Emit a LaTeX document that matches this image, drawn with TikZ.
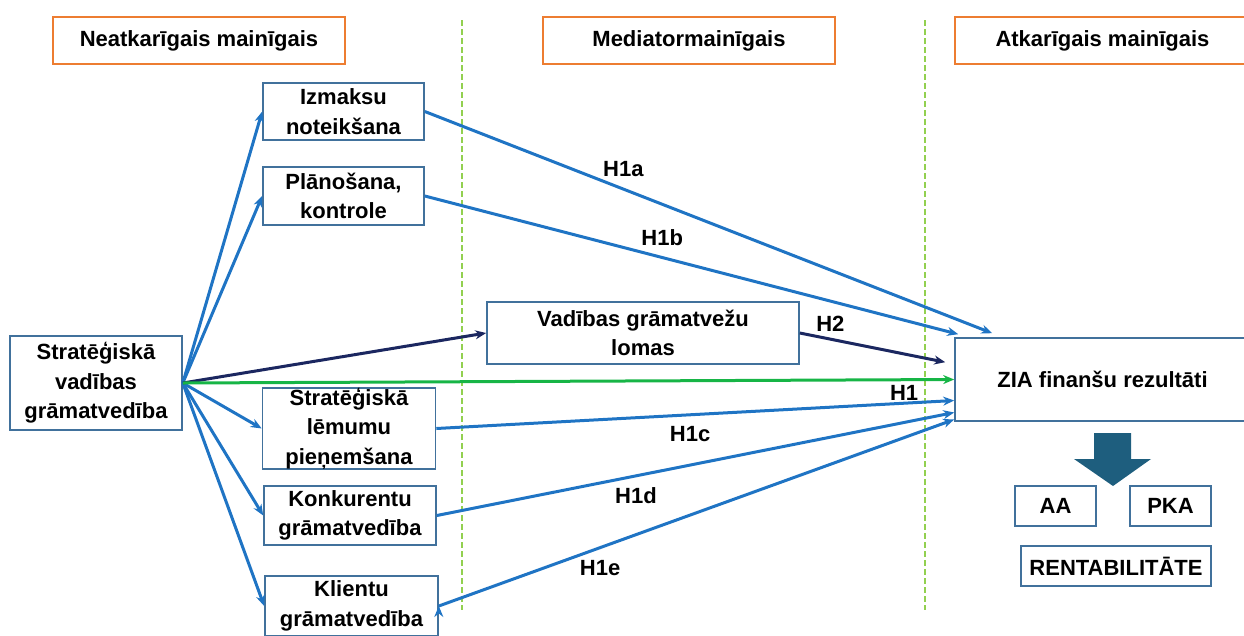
\documentclass[tikz,border=0pt]{standalone}
\usepackage{fontspec}
\setmainfont{Liberation Sans}
\usetikzlibrary{arrows.meta,positioning}
\definecolor{boxblue}{HTML}{41719C}
\definecolor{arrblue}{HTML}{1F74C4}
\definecolor{navyline}{HTML}{1B2760}
\definecolor{hypgreen}{HTML}{17B546}
\definecolor{hdrorange}{HTML}{ED7D31}
\definecolor{dashgreen}{HTML}{92D050}
\definecolor{bigarrow}{HTML}{1E5E7E}

\begin{document}
\begin{tikzpicture}[x=1pt,y=-1pt,>={Stealth[length=11pt,width=9pt]},
    font=\fontsize{22}{29.5}\selectfont\bfseries,
    var node/.style={draw=boxblue,line width=1.6pt,align=center,inner sep=0pt,text=black},
    head node/.style={draw=hdrorange,line width=1.6pt,minimum height=47pt,inner sep=0pt,text=black},
    hyp line/.style={line width=3pt},
    lbl/.style={inner sep=1pt,text=black}]
  \useasboundingbox (0,0) rectangle (1244,635);

  % kolonnu virsraksti
  \node[head node,minimum width=292pt] (hdrA) at (199,40.5) {Neatkarīgais mainīgais};
  \node[head node,minimum width=292pt] (hdrB) at (689,40.5) {Mediatormainīgais};
  \node[head node,minimum width=295pt] (hdrC) at (1102.5,40.5) {Atkarīgais mainīgais};

  % robezlinijas
  \draw[dashgreen,line width=2.5pt,dash pattern=on 6pt off 3pt] (462,20) -- (462,610);
  \draw[dashgreen,line width=2.5pt,dash pattern=on 6pt off 3pt] (925,20) -- (925,610);

  \node[var node,minimum width=172pt,minimum height=94pt] (svg) at (96,383) {Stratēģiskā\\vadības\\grāmatvedība};
  \node[var node,minimum width=161pt,minimum height=57pt] (izm) at (343.5,111.5) {Izmaksu\\noteikšana};
  \node[var node,minimum width=161pt,minimum height=58pt] (plan) at (343.5,196) {Plānošana,\\kontrole};
  \node[var node,minimum width=173pt,minimum height=81pt] (slp) at (349,428.5) {Stratēģiskā\\lēmumu\\pieņemšana};
  \node[var node,minimum width=172pt,minimum height=59pt] (konk) at (350,515.5) {Konkurentu\\grāmatvedība};
  \node[var node,minimum width=173pt,minimum height=60pt] (klien) at (351.5,606) {Klientu\\grāmatvedība};
  \node[var node,minimum width=312pt,minimum height=62pt] (vgl) at (643,333) {Vadības grāmatvežu\\lomas};
  \node[var node,minimum width=295pt,minimum height=83pt] (zia) at (1102.5,379.5) {ZIA finanšu rezultāti};

  % rezultatu raditaji
  \fill[bigarrow] (1094,433) -- (1131,433) -- (1131,459) -- (1151,459) -- (1113,486)
    -- (1074,459) -- (1094,459) -- cycle;
  \node[var node,minimum width=81pt,minimum height=40pt] (aa) at (1055.5,506) {AA};
  \node[var node,minimum width=81pt,minimum height=40pt] (pka) at (1170.5,506) {PKA};
  \node[var node,minimum width=190pt,minimum height=40pt] (rent) at (1116,566) {RENTABILITĀTE};

  \path[->,hyp line,draw=arrblue]
    (svg.east) edge (izm.west)
    (svg.east) edge (plan.west)
    (svg.east) edge (slp.west)
    (svg.east) edge (konk.west)
    (svg.east) edge (klien.west)
    (izm.east) edge node[lbl,pos=0.35,above=10pt] {H1a} ([xshift=38pt,yshift=4pt]zia.north west)
    (plan.east) edge node[lbl,pos=0.445,above=9pt] {H1b} ([xshift=4pt,yshift=3pt]zia.north west)
    (slp.east) edge node[lbl,pos=0.49,below=9pt] {H1c} ([yshift=-21pt]zia.west)
    (konk.east) edge node[lbl,pos=0.385,below=9pt] {H1d} ([yshift=-33pt]zia.west)
    (klien.east) edge node[lbl,pos=0.313,below=10pt] {H1e} ([yshift=-40pt]zia.west);

  \path[->,hyp line]
    (svg.east) edge [navyline] (vgl.west)
    (vgl.east) edge [navyline] node[lbl,pos=0.21,above=5pt] {H2} ([xshift=-9pt,yshift=-25pt]zia.north west)
    (svg.east) edge [hypgreen] node[lbl,pos=0.935,below=3pt] {H1} (zia.west);
\end{tikzpicture}
\end{document}
